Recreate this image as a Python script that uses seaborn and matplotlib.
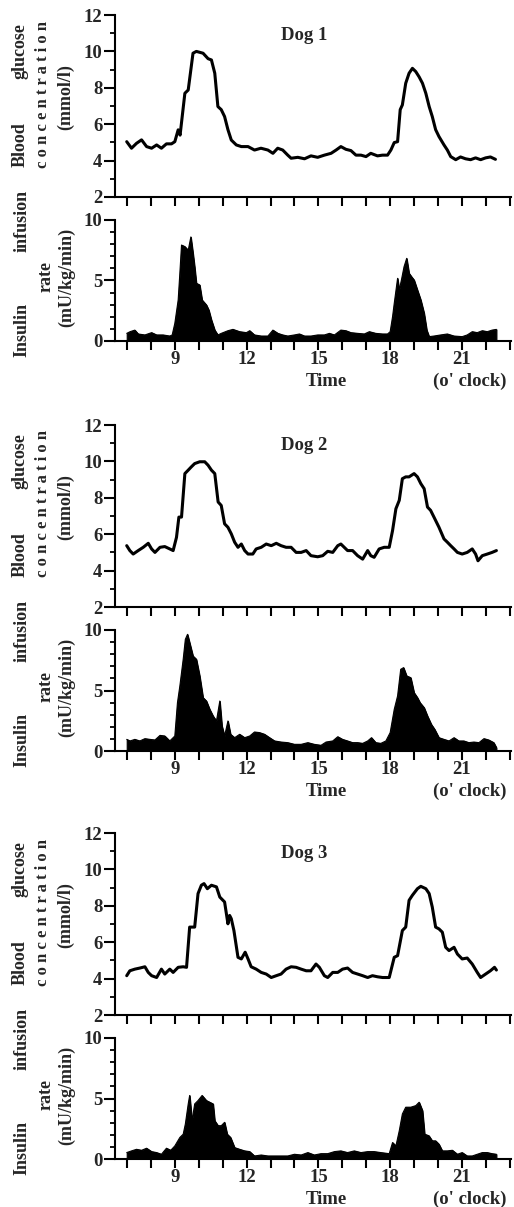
import numpy as np
import pandas as pd
import seaborn as sns
import matplotlib.pyplot as plt
from matplotlib.ticker import MultipleLocator

# ---- data (time in hours, o'clock) ----
# Dog 1 blood glucose (mmol/l)
t_g1 = [6.99, 7.19, 7.4, 7.61, 7.82, 8.03, 8.24, 8.44, 8.65, 8.86, 9.0, 9.14, 9.22, 9.42, 9.56,
        9.76, 9.9, 10.18, 10.39, 10.53, 10.67, 10.8, 10.94, 11.08, 11.22, 11.36, 11.57, 11.78,
        12.06, 12.33, 12.6, 12.89, 13.1, 13.3, 13.51, 13.72, 13.86, 14.14, 14.42, 14.69, 14.97,
        15.25, 15.53, 15.74, 15.94, 16.15, 16.36, 16.57, 16.78, 16.99, 17.19, 17.47, 17.68, 17.89,
        18.03, 18.17, 18.31, 18.42, 18.51, 18.65, 18.79, 18.93, 19.07, 19.21, 19.35, 19.49, 19.63,
        19.76, 19.9, 20.04, 20.25, 20.39, 20.53, 20.74, 20.94, 21.15, 21.36, 21.57, 21.78, 21.99,
        22.19, 22.4]
g1 = [5.04, 4.68, 4.95, 5.14, 4.77, 4.68, 4.86, 4.68, 4.92, 4.92, 5.04, 5.69, 5.4, 7.7, 7.88,
      9.9, 10.0, 9.9, 9.6, 9.53, 8.8, 6.97, 6.8, 6.42, 5.7, 5.13, 4.86, 4.77,
      4.77, 4.58, 4.68, 4.58, 4.4, 4.68, 4.58, 4.3, 4.13, 4.18, 4.1, 4.26, 4.18,
      4.3, 4.4, 4.58, 4.77, 4.62, 4.55, 4.3, 4.3, 4.22, 4.4, 4.26, 4.3, 4.3,
      4.58, 4.99, 5.04, 6.8, 7.06, 8.25, 8.8, 9.07, 8.89, 8.6, 8.25, 7.7, 6.97,
      6.42, 5.7, 5.32, 4.86, 4.58, 4.22, 4.05, 4.2, 4.1, 4.05, 4.15, 4.05, 4.15,
      4.2, 4.07]

# Dog 1 insulin infusion rate (mU/kg/min)
t_i1 = [6.99, 7.13, 7.33, 7.47, 7.75, 8.03, 8.24, 8.51, 8.79, 8.89, 9.0, 9.14, 9.21, 9.28, 9.42,
        9.56, 9.67, 9.76, 9.83, 9.9, 10.04, 10.14, 10.32, 10.42, 10.53, 10.67, 10.8, 10.94, 11.22,
        11.43, 11.71, 11.99, 12.13, 12.33, 12.61, 12.89, 13.1, 13.31, 13.51, 13.72, 14.0, 14.21,
        14.42, 14.69, 14.97, 15.25, 15.46, 15.67, 15.94, 16.15, 16.36, 16.64, 16.92, 17.13, 17.4,
        17.68, 17.89, 18.0, 18.1, 18.17, 18.31, 18.38, 18.47, 18.58, 18.69, 18.79, 18.89, 19.0,
        19.14, 19.28, 19.42, 19.53, 19.63, 19.83, 20.11, 20.39, 20.67, 21.01, 21.22, 21.43, 21.64,
        21.85, 22.06, 22.26, 22.44]
i1 = [0.63, 0.77, 0.9, 0.58, 0.5, 0.69, 0.5, 0.5, 0.41, 0.5, 1.46, 3.39, 5.6, 7.93, 7.8,
      7.5, 8.6, 7.25, 6.1, 4.77, 4.63, 3.39, 2.98, 2.56, 1.74, 0.9, 0.5, 0.63, 0.85,
      0.96, 0.77, 0.69, 0.85, 0.5, 0.41, 0.41, 0.9, 0.63, 0.5, 0.41, 0.5, 0.58,
      0.41, 0.41, 0.5, 0.5, 0.63, 0.5, 0.9, 0.85, 0.69, 0.63, 0.58, 0.77, 0.63,
      0.58, 0.58, 0.77, 2.01, 3.11, 5.18, 4.21, 5.04, 6.14, 6.83, 5.6, 5.32, 5.04,
      4.21, 3.39, 2.29, 0.9, 0.36, 0.41, 0.5, 0.58, 0.41, 0.36, 0.5, 0.77, 0.69,
      0.85, 0.77, 0.9, 0.96]

# Dog 2 blood glucose
t_g2 = [6.99, 7.12, 7.26, 7.47, 7.68, 7.89, 8.03, 8.17, 8.38, 8.58, 8.79, 8.93, 9.07, 9.17, 9.28,
        9.42, 9.56, 9.69, 9.83, 10.04, 10.25, 10.39, 10.53, 10.67, 10.81, 10.94, 11.08, 11.22,
        11.36, 11.5, 11.64, 11.78, 11.92, 12.06, 12.26, 12.4, 12.61, 12.82, 13.03, 13.24, 13.44,
        13.65, 13.86, 14.07, 14.28, 14.49, 14.69, 14.97, 15.18, 15.39, 15.6, 15.81, 15.94, 16.08,
        16.22, 16.43, 16.64, 16.85, 17.06, 17.19, 17.33, 17.54, 17.75, 17.96, 18.1, 18.24, 18.38,
        18.51, 18.65, 18.79, 19.0, 19.14, 19.28, 19.42, 19.56, 19.69, 19.83, 20.04, 20.25, 20.39,
        20.53, 20.67, 20.81, 21.01, 21.22, 21.43, 21.57, 21.67, 21.85, 22.06, 22.26, 22.44]
g2 = [5.37, 5.1, 4.91, 5.1, 5.28, 5.5, 5.19, 5.0, 5.28, 5.32, 5.19, 5.1, 5.83, 6.94, 6.94,
      9.33, 9.52, 9.7, 9.88, 9.98, 9.98, 9.79, 9.52, 9.33, 7.77, 7.58, 6.57, 6.38,
      6.02, 5.56, 5.28, 5.46, 5.1, 4.91, 4.91, 5.19, 5.28, 5.46, 5.37, 5.5, 5.37,
      5.28, 5.28, 5.0, 5.0, 5.1, 4.82, 4.76, 4.82, 5.06, 5.0, 5.37, 5.46, 5.28,
      5.1, 5.1, 4.82, 4.63, 5.1, 4.82, 4.73, 5.19, 5.28, 5.28, 6.2, 7.4, 7.86,
      9.05, 9.15, 9.15, 9.33, 9.15, 8.78, 8.5, 7.49, 7.31, 6.94, 6.38, 5.74, 5.56,
      5.37, 5.19, 5.0, 4.91, 5.0, 5.19, 4.91, 4.54, 4.82, 4.91, 5.0, 5.1]

# Dog 2 insulin infusion rate
t_i2 = [6.99, 7.13, 7.33, 7.54, 7.75, 7.96, 8.17, 8.38, 8.58, 8.79, 9.0, 9.11, 9.21, 9.35, 9.44,
        9.53, 9.62, 9.76, 9.9, 10.04, 10.18, 10.32, 10.46, 10.6, 10.74, 10.88, 10.97, 11.08, 11.22,
        11.33, 11.5, 11.71, 11.92, 12.13, 12.33, 12.54, 12.75, 12.96, 13.17, 13.44, 13.72, 14.0,
        14.28, 14.56, 14.83, 15.11, 15.32, 15.6, 15.81, 16.01, 16.22, 16.43, 16.64, 16.85, 17.06,
        17.22, 17.4, 17.61, 17.82, 18.0, 18.17, 18.31, 18.44, 18.56, 18.69, 18.86, 19.0, 19.14,
        19.25, 19.42, 19.56, 19.72, 19.86, 20.04, 20.25, 20.46, 20.67, 20.87, 21.08, 21.29, 21.5,
        21.71, 21.92, 22.12, 22.33, 22.44]
i2 = [0.96, 0.83, 0.96, 0.83, 1.02, 0.96, 0.91, 1.29, 1.24, 0.83, 1.24, 3.99, 5.37, 7.58, 9.23,
      9.64, 8.95, 7.85, 7.58, 6.2, 4.41, 4.13, 3.44, 2.89, 2.48, 4.13, 2.07, 1.24, 2.48,
      1.38, 1.1, 1.38, 1.1, 1.24, 1.57, 1.52, 1.38, 1.1, 0.83, 0.74, 0.69, 0.55,
      0.55, 0.69, 0.55, 0.47, 0.74, 0.83, 1.18, 0.96, 0.83, 0.69, 0.69, 0.63, 0.83,
      1.1, 0.69, 0.63, 0.83, 1.52, 3.44, 4.55, 6.75, 6.89, 6.2, 6.06, 4.82, 4.41,
      3.99, 3.58, 2.89, 2.2, 1.79, 1.1, 0.96, 0.83, 1.1, 0.83, 0.83, 0.69, 0.74,
      0.69, 1.02, 0.91, 0.69, 0.28]

# Dog 3 blood glucose
t_g3 = [6.99, 7.12, 7.33, 7.54, 7.75, 7.89, 8.03, 8.24, 8.44, 8.58, 8.79, 8.93, 9.14, 9.35, 9.49,
        9.62, 9.83, 9.97, 10.11, 10.22, 10.36, 10.53, 10.74, 10.88, 11.08, 11.22, 11.29, 11.36,
        11.47, 11.64, 11.78, 11.94, 12.06, 12.19, 12.4, 12.61, 12.82, 13.03, 13.24, 13.44, 13.65,
        13.86, 14.07, 14.28, 14.49, 14.69, 14.9, 15.04, 15.25, 15.39, 15.6, 15.81, 16.01, 16.22,
        16.43, 16.64, 16.85, 17.06, 17.26, 17.47, 17.68, 17.96, 18.17, 18.31, 18.51, 18.65, 18.79,
        18.93, 19.14, 19.28, 19.49, 19.63, 19.76, 19.9, 20.04, 20.18, 20.32, 20.46, 20.67, 20.81,
        21.01, 21.22, 21.43, 21.64, 21.78, 21.99, 22.19, 22.36, 22.44]
g3 = [4.16, 4.43, 4.52, 4.58, 4.65, 4.34, 4.16, 4.06, 4.52, 4.25, 4.52, 4.34, 4.62, 4.65, 4.62,
      6.83, 6.83, 8.67, 9.13, 9.22, 8.94, 9.13, 9.04, 8.48, 8.21, 7.01, 7.47, 7.29,
      6.64, 5.17, 5.08, 5.45, 5.08, 4.65, 4.52, 4.34, 4.25, 4.06, 4.16, 4.25, 4.52,
      4.65, 4.62, 4.52, 4.43, 4.43, 4.8, 4.62, 4.16, 4.06, 4.34, 4.34, 4.52, 4.58,
      4.34, 4.25, 4.16, 4.06, 4.16, 4.1, 4.06, 4.06, 5.17, 5.26, 6.64, 6.83, 8.3,
      8.58, 8.94, 9.07, 8.94, 8.67, 7.93, 6.83, 6.73, 6.55, 5.72, 5.54, 5.72, 5.35,
      5.08, 5.13, 4.8, 4.34, 4.06, 4.25, 4.43, 4.62, 4.47]

# Dog 3 insulin infusion rate
t_i3 = [6.99, 7.19, 7.4, 7.61, 7.82, 8.03, 8.24, 8.44, 8.65, 8.83, 9.0, 9.21, 9.35, 9.44, 9.56,
        9.62, 9.72, 9.83, 9.97, 10.14, 10.32, 10.46, 10.6, 10.67, 10.81, 10.94, 11.08, 11.19,
        11.33, 11.5, 11.71, 11.92, 12.13, 12.33, 12.61, 12.89, 13.17, 13.44, 13.72, 14.0, 14.28,
        14.56, 14.83, 15.11, 15.39, 15.67, 15.94, 16.22, 16.5, 16.78, 17.06, 17.33, 17.61, 17.96,
        18.1, 18.24, 18.38, 18.51, 18.65, 18.86, 19.07, 19.21, 19.35, 19.44, 19.62, 19.76, 19.9,
        20.04, 20.18, 20.39, 20.6, 20.81, 21.01, 21.22, 21.43, 21.64, 21.85, 22.06, 22.26, 22.44]
i3 = [0.53, 0.67, 0.8, 0.72, 0.89, 0.61, 0.53, 0.39, 0.89, 0.72, 1.08, 1.78, 2.05, 2.89, 4.55,
      5.25, 3.16, 4.55, 4.83, 5.25, 4.83, 4.69, 4.55, 3.16, 2.75, 2.75, 3.03, 2.05,
      1.78, 0.94, 0.8, 0.67, 0.61, 0.25, 0.33, 0.25, 0.25, 0.25, 0.25, 0.39, 0.33,
      0.53, 0.33, 0.44, 0.44, 0.61, 0.67, 0.53, 0.67, 0.53, 0.61, 0.61, 0.53, 0.44,
      1.36, 1.08, 2.33, 3.72, 4.28, 4.28, 4.41, 4.69, 4.0, 2.05, 1.92, 1.5, 1.5,
      1.22, 0.67, 0.67, 0.72, 0.39, 0.53, 0.25, 0.25, 0.39, 0.53, 0.53, 0.44, 0.39]

dog_names = ["Dog 1", "Dog 2", "Dog 3"]
hours = list(range(7, 24))
hour_labels = [str(h) if h % 3 == 0 and h < 23 else "" for h in hours]

glucose = [(t_g1, g1), (t_g2, g2), (t_g3, g3)]
insulin = [(t_i1, i1), (t_i2, i2), (t_i3, i3)]

# ---- style ----
sns.set_style("ticks")
plt.rcParams["font.family"] = ["Liberation Serif", "DejaVu Serif"]
plt.rcParams["font.weight"] = "bold"
plt.rcParams["axes.linewidth"] = 1.5

W, H = 514, 1207
fig = plt.figure(figsize=(W / 100, H / 100), dpi=100)


def box(left, top, right, bottom):
    # pixel box -> figure fraction
    return [left / W, 1 - bottom / H, (right - left) / W, (bottom - top) / H]


fs = 13.5    # ticks, titles, time label
fl = 13      # y-axis label words


def style_axis(ax):
    sns.despine(ax=ax)
    ax.set_xlim(6.5, 23.05)
    ax.set_xticks(hours)
    ax.tick_params(axis="x", which="major", direction="out", length=6.5, width=1.5,
                   labelsize=fs, pad=1, color="black")
    ax.tick_params(axis="y", which="major", direction="out", length=8, width=1.5,
                   labelsize=fs, pad=1, color="black")
    ax.tick_params(axis="y", which="minor", direction="out", length=3.5, width=1.3, color="black")
    ax.set_xlabel("")
    ax.set_ylabel("")
    for s in ax.spines.values():
        s.set_color("black")


block_top = [15, 425, 833]
L, R = 115, 511

for k in range(3):
    top = block_top[k]

    # glucose panel
    axg = fig.add_axes(box(L, top, R, top + 182))
    tg, vg = glucose[k]
    df_g = pd.DataFrame({"time": tg, "glucose": vg})
    sns.lineplot(data=df_g, x="time", y="glucose", ax=axg, color="black",
                 linewidth=2.2, estimator=None, sort=False)
    style_axis(axg)
    axg.set_ylim(2, 12)
    axg.set_yticks([2, 4, 6, 8, 10, 12])
    axg.yaxis.set_minor_locator(MultipleLocator(1))
    axg.set_xticklabels([""] * len(hours))
    axg.text(14.4, 10.85, dog_names[k], ha="center", va="center", fontsize=fs, fontweight="bold")

    # insulin panel
    axi = fig.add_axes(box(L, top + 205, R, top + 326))
    ti, vi = insulin[k]
    df_i = pd.DataFrame({"time": ti, "insulin": vi})
    axi.fill_between(df_i["time"], df_i["insulin"], 0, color="black", linewidth=0.8)
    sns.lineplot(data=df_i, x="time", y="insulin", ax=axi, color="black",
                 linewidth=0.8, estimator=None, sort=False)
    style_axis(axi)
    axi.set_ylim(0, 10)
    axi.set_yticks([0, 5, 10])
    axi.yaxis.set_minor_locator(MultipleLocator(1))
    axi.set_xticklabels(hour_labels)

    # y labels (justified lines like the original)
    fig.text(20 / W, 1 - (top + 152) / H, "Blood", rotation=90, ha="center", va="bottom",
             fontsize=fl, fontweight="bold")
    fig.text(20 / W, 1 - (top + 8) / H, "glucose", rotation=90, ha="center", va="top",
             fontsize=fl, fontweight="bold")
    fig.text(43 / W, 1 - (top + 79) / H, "c o n c e n t r a t i o n", rotation=90,
             ha="center", va="center", fontsize=12, fontweight="bold")
    fig.text(66 / W, 1 - (top + 82) / H, "(mmol/l)", rotation=90, ha="center", va="center",
             fontsize=fl, fontweight="bold")

    fig.text(22 / W, 1 - (top + 342) / H, "Insulin", rotation=90, ha="center", va="bottom",
             fontsize=fl, fontweight="bold")
    fig.text(22 / W, 1 - (top + 175) / H, "infusion", rotation=90, ha="center", va="top",
             fontsize=fl, fontweight="bold")
    fig.text(46 / W, 1 - (top + 261) / H, "rate", rotation=90, ha="center", va="center",
             fontsize=fl, fontweight="bold")
    fig.text(67 / W, 1 - (top + 262) / H, "(mU/kg/min)", rotation=90, ha="center", va="center",
             fontsize=fl, fontweight="bold")

    # x label
    fig.text(326 / W, 1 - (top + 366) / H, "Time", ha="center", va="center",
             fontsize=fs, fontweight="bold")
    fig.text(470 / W, 1 - (top + 366) / H, "(o' clock)", ha="center", va="center",
             fontsize=fs, fontweight="bold")

fig.savefig("out.png", dpi=100, facecolor="white")
